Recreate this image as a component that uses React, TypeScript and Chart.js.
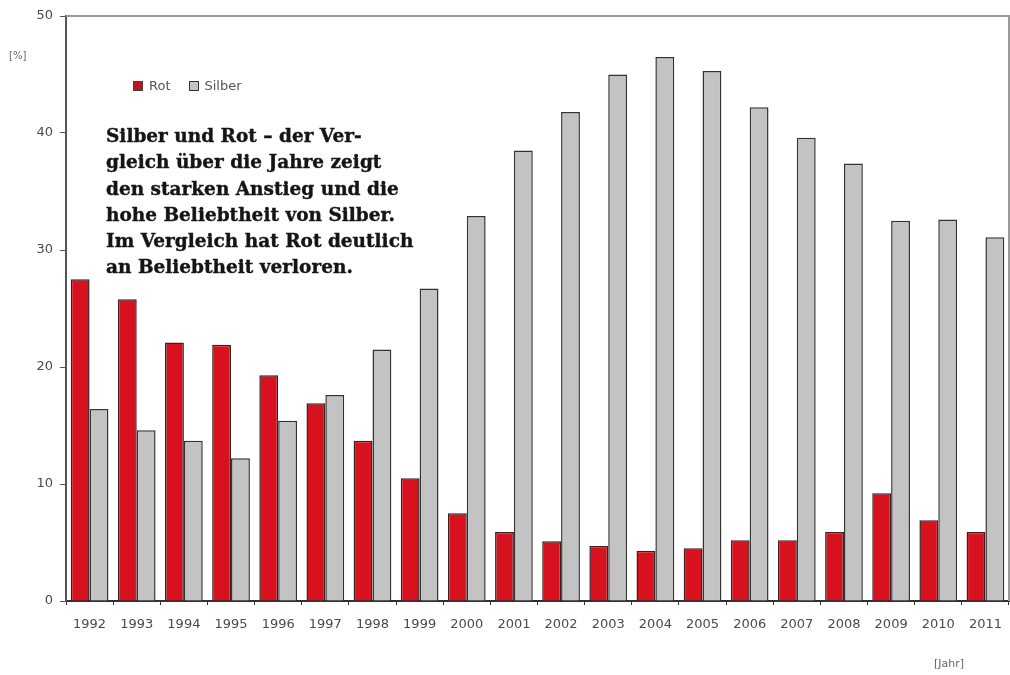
import React, { useEffect, useRef } from "react";
import { Chart, registerables } from "chart.js";

Chart.register(...registerables);

const years = ["1992","1993","1994","1995","1996","1997","1998","1999","2000","2001","2002","2003","2004","2005","2006","2007","2008","2009","2010","2011"];
const rot = [27.5, 25.8, 22.1, 21.9, 19.3, 16.9, 13.7, 10.5, 7.5, 5.9, 5.1, 4.7, 4.3, 4.5, 5.2, 5.2, 5.9, 9.2, 6.9, 5.9];
const silber = [16.4, 14.6, 13.7, 12.2, 15.4, 17.6, 21.5, 26.7, 32.9, 38.5, 41.8, 45.0, 46.5, 45.3, 42.2, 39.6, 37.4, 32.5, 32.6, 31.1];
const yTicks = [0, 10, 20, 30, 40, 50];
const noteLines = [
  "Silber und Rot – der Ver-",
  "gleich über die Jahre zeigt",
  "den starken Anstieg und die",
  "hohe Beliebtheit von Silber.",
  "Im Vergleich hat Rot deutlich",
  "an Beliebtheit verloren.",
];

const frame = {
  id: "frame",
  afterDraw(chart: any) {
    const { ctx, chartArea } = chart;
    ctx.save();
    ctx.strokeStyle = "#9a9a9a";
    ctx.lineWidth = 2;
    ctx.beginPath();
    ctx.moveTo(chartArea.left, chartArea.top);
    ctx.lineTo(chartArea.right, chartArea.top);
    ctx.lineTo(chartArea.right, chartArea.bottom);
    ctx.stroke();
    ctx.restore();
  },
};

export default function App() {
  const ref = useRef<HTMLCanvasElement | null>(null);
  useEffect(() => {
    if (!ref.current) return;
    const tickFont = { family: "'DejaVu Sans', Verdana, sans-serif", size: 13 };
    const chart = new Chart(ref.current, {
      type: "bar",
      data: {
        labels: years,
        datasets: [
          { label: "Rot", data: rot, backgroundColor: "#d7121e", borderColor: "#3a2020", borderWidth: 1.5, barPercentage: 1, categoryPercentage: 0.8 },
          { label: "Silber", data: silber, backgroundColor: "#c3c3c3", borderColor: "#333333", borderWidth: 1.5, barPercentage: 1, categoryPercentage: 0.8 },
        ],
      },
      options: {
        animation: false,
        responsive: false,
        maintainAspectRatio: false,
        layout: { padding: { top: 16, right: 1, left: 0, bottom: 0 } },
        plugins: { legend: { display: false }, tooltip: { enabled: false } },
        scales: {
          x: {
            offset: true,
            grid: { display: true, offset: true, drawOnChartArea: false, drawTicks: true, tickLength: 4, color: "#333" },
            border: { display: true, color: "#333", width: 2 },
            ticks: { color: "#4a4a4a", font: tickFont, padding: 12, maxRotation: 0, autoSkip: false },
            afterFit: (s: any) => { s.height = 74; s.paddingRight = 0; s.paddingLeft = 0; },
          },
          y: {
            min: 0,
            max: 50,
            afterBuildTicks: (s: any) => { s.ticks = yTicks.map((v) => ({ value: v })); },
            grid: { display: true, drawOnChartArea: false, drawTicks: true, tickLength: 6, color: "#555" },
            border: { display: true, color: "#555", width: 2 },
            ticks: { color: "#4a4a4a", font: tickFont, padding: 7 },
            afterFit: (s: any) => { s.width = 66; },
          },
        },
      },
      plugins: [frame],
    });
    return () => chart.destroy();
  }, []);

  const sans = "'DejaVu Sans', Verdana, sans-serif";
  return (
    <div style={{ position: "absolute", left: 0, top: 0, width: 1010, height: 675, background: "#fff", overflow: "hidden" }}>
      <canvas ref={ref} width={1010} height={675} style={{ position: "absolute", left: 0, top: 0, width: 1010, height: 675 }} />
      <div style={{ position: "absolute", left: 9, top: 50, fontFamily: sans, fontSize: 10, color: "#666" }}>[%]</div>
      <div style={{ position: "absolute", left: 934, top: 657, fontFamily: sans, fontSize: 11, color: "#666" }}>[Jahr]</div>
      <div style={{ position: "absolute", left: 133, top: 78, display: "flex", alignItems: "center", fontFamily: sans, fontSize: 13, color: "#555" }}>
        <span style={{ display: "inline-block", width: 8, height: 8, background: "#c0141e", border: "1px solid #444", marginRight: 6 }} />
        <span style={{ marginRight: 18 }}>Rot</span>
        <span style={{ display: "inline-block", width: 8, height: 8, background: "#c3c3c3", border: "1px solid #333", marginRight: 6 }} />
        <span>Silber</span>
      </div>
      <div style={{ position: "absolute", left: 106, top: 123, fontFamily: "'DejaVu Serif', serif", fontWeight: 700, fontSize: 18.5, lineHeight: "26.25px", color: "#151515", whiteSpace: "pre", WebkitTextStroke: "0.4px #151515" }}>
        {noteLines.map((l, i) => (<div key={i}>{l}</div>))}
      </div>
    </div>
  );
}
